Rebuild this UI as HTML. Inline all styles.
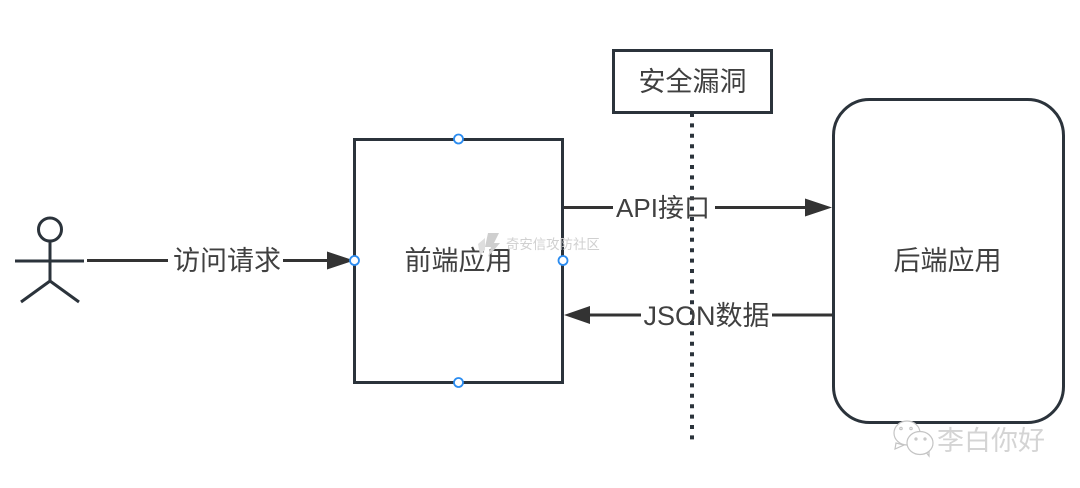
<!DOCTYPE html>
<html>
<head>
<meta charset="utf-8">
<style>
html,body{margin:0;padding:0;background:#fff;}
body{width:1080px;height:488px;overflow:hidden;}
svg{display:block;}
text{font-family:"Liberation Sans","Noto Sans CJK SC",sans-serif;fill:#404040;}
</style>
</head>
<body>
<svg width="1080" height="488" viewBox="0 0 1080 488" xmlns="http://www.w3.org/2000/svg">
<rect width="1080" height="488" fill="#fff"/>
<!-- dotted line -->
<line x1="692" y1="113" x2="692" y2="441" stroke="#2b333b" stroke-width="4" stroke-dasharray="4 6.4"/>
<!-- security box -->
<rect x="613.5" y="50.5" width="158" height="62" fill="#fff" stroke="#2b333b" stroke-width="3"/>
<text x="692.500" y="91" font-size="27" text-anchor="middle">安全漏洞</text>
<!-- frontend -->
<rect x="354.5" y="139.5" width="208" height="243" fill="#fff" stroke="#2b333b" stroke-width="3"/>
<text x="458.500" y="270" font-size="27" text-anchor="middle">前端应用</text>
<!-- backend -->
<rect x="833.5" y="99.5" width="230" height="323" rx="36" ry="36" fill="#fff" stroke="#2b333b" stroke-width="3"/>
<text x="947.500" y="270" font-size="27" text-anchor="middle">后端应用</text>
<!-- actor -->
<g fill="none" stroke="#2b333b" stroke-width="3">
<circle cx="50" cy="229.500" r="11.500"/>
<line x1="50" y1="241" x2="50" y2="281"/>
<line x1="15" y1="261" x2="84" y2="261"/>
<polyline points="21,302 50,281 79,302"/>
</g>
<!-- request arrow -->
<line x1="87" y1="260.500" x2="168" y2="260.500" stroke="#333" stroke-width="3"/>
<line x1="283" y1="260.500" x2="330" y2="260.500" stroke="#333" stroke-width="3"/>
<polygon points="327,251.500 354,260.500 327,269.500" fill="#333"/>
<text x="227" y="270" font-size="27" text-anchor="middle">访问请求</text>
<!-- API arrow -->
<line x1="564" y1="207.500" x2="613" y2="207.500" stroke="#333" stroke-width="3"/>
<line x1="715" y1="207.500" x2="808" y2="207.500" stroke="#333" stroke-width="3"/>
<polygon points="805,198.500 832,207.500 805,216.500" fill="#333"/>
<text x="663" y="217" font-size="26" text-anchor="middle">API接口</text>
<!-- JSON arrow -->
<line x1="832" y1="315" x2="772" y2="315" stroke="#333" stroke-width="3"/>
<line x1="641" y1="315" x2="588" y2="315" stroke="#333" stroke-width="3"/>
<polygon points="590,306 564,315 590,324" fill="#333"/>
<text x="706.500" y="325" font-size="27" text-anchor="middle">JSON数据</text>
<!-- handles -->
<g fill="#fff" stroke="#2b8cf0" stroke-width="1.800">
<circle cx="458.500" cy="139" r="4.500"/>
<circle cx="458.500" cy="382.500" r="4.500"/>
<circle cx="354.500" cy="260.500" r="4.500"/>
<circle cx="563" cy="260.500" r="4.500"/>
</g>
<!-- center watermark -->
<polygon points="488,233 499,233 494,243 500,243 488,257 491,247 485,247" fill="#cfcfcf"/>
<polygon points="478,244 485,238 485,250 480,255" fill="#dedede"/>
<text x="506" y="249" font-size="13.400" style="fill:#d0d0d0">奇安信攻防社区</text>
<!-- wechat watermark -->
<g fill="#fff" stroke="#c4c4c4" stroke-width="1.200">
<polygon points="896,443 895,449 904,445" />
<ellipse cx="907" cy="433" rx="13" ry="12"/>
<polygon points="925,451 929,456 929,449"/>
<ellipse cx="920" cy="443" rx="13" ry="11.500"/>
<circle cx="901" cy="428.500" r="1.200"/>
<circle cx="911" cy="428.500" r="1.200"/>
<circle cx="916" cy="439" r="1"/>
<circle cx="925" cy="439" r="1"/>
</g>
<text x="937" y="450" font-size="27" style="fill:#d4d4d4" textLength="108">李白你好</text>
</svg>
</body>
</html>
